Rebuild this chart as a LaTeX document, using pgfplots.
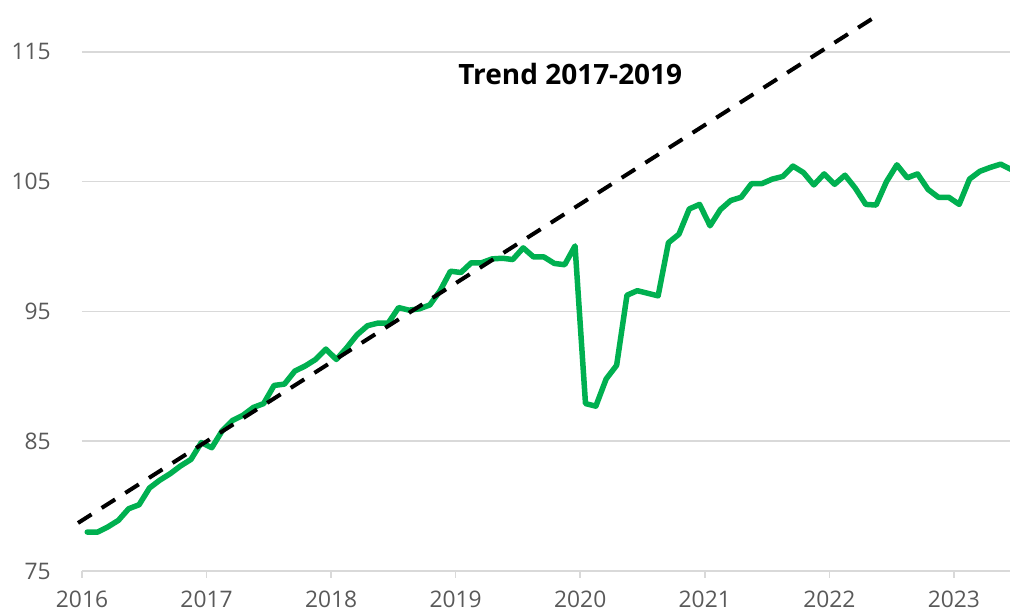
\documentclass[border=0pt]{standalone}
\usepackage{pgfplots}
\pgfplotsset{compat=1.18}
\usepackage{fontspec}
\setmainfont{Open Sans}
\definecolor{grn}{HTML}{00B050}
\definecolor{grd}{HTML}{D9D9D9}
\definecolor{lbl}{HTML}{595959}
\pgfplotstableread{
x y
2016.042 78.0
2016.125 78.0
2016.208 78.4
2016.292 78.9
2016.375 79.8
2016.458 80.1
2016.542 81.4
2016.625 82.0
2016.708 82.5
2016.792 83.1
2016.875 83.6
2016.958 84.9
2017.042 84.5
2017.125 85.8
2017.208 86.6
2017.292 87.0
2017.375 87.6
2017.458 87.9
2017.542 89.3
2017.625 89.4
2017.708 90.4
2017.792 90.8
2017.875 91.3
2017.958 92.1
2018.042 91.3
2018.125 92.2
2018.208 93.2
2018.292 93.9
2018.375 94.1
2018.458 94.1
2018.542 95.3
2018.625 95.1
2018.708 95.2
2018.792 95.5
2018.875 96.6
2018.958 98.1
2019.042 98.0
2019.125 98.75
2019.208 98.75
2019.292 99.05
2019.375 99.1
2019.458 99.0
2019.542 99.9
2019.625 99.2
2019.708 99.2
2019.792 98.7
2019.875 98.6
2019.958 100.05
2020.042 87.9
2020.125 87.7
2020.208 89.8
2020.292 90.85
2020.375 96.25
2020.458 96.6
2020.542 96.4
2020.625 96.2
2020.708 100.3
2020.792 100.95
2020.875 102.9
2020.958 103.25
2021.042 101.6
2021.125 102.85
2021.208 103.55
2021.292 103.8
2021.375 104.85
2021.458 104.85
2021.542 105.2
2021.625 105.4
2021.708 106.2
2021.792 105.7
2021.875 104.75
2021.958 105.6
2022.042 104.8
2022.125 105.5
2022.208 104.5
2022.292 103.25
2022.375 103.2
2022.458 105.0
2022.542 106.3
2022.625 105.3
2022.708 105.6
2022.792 104.4
2022.875 103.8
2022.958 103.8
2023.042 103.25
2023.125 105.2
2023.208 105.8
2023.292 106.1
2023.375 106.35
2023.458 105.95
}\series
\begin{document}
\begin{tikzpicture}
\begin{axis}[name=ax, scale only axis, width=464pt, height=285.5pt,
  xmin=2016, xmax=2023.45, ymin=75, ymax=119,
  clip=false,
  separate axis lines,
  axis x line*=bottom, axis y line*=left,
  every outer x axis line/.append style={-, draw=grd, line width=0.75pt},
  every outer y axis line/.append style={-, draw=none},
  xtick={2016,2017,...,2023},
  ytick={75,85,95,105,115},
  ymajorgrids,
  grid style={grd, line width=0.75pt},
  tick align=outside,
  major tick length=3.5pt,
  xtick style={grd, line width=0.75pt},
  ytick style={draw=none},
  ticklabel style={font=\fontsize{11.4}{14}\selectfont, text=lbl},
  /pgf/number format/assume math mode=true,
  /pgf/number format/1000 sep={},
  xticklabel style={inner sep=0pt, anchor=north, yshift=-6.5pt},
  yticklabel style={inner sep=0pt, anchor=east, xshift=-12pt},
]
\addplot[grn, line width=2.75pt, line cap=round, line join=round] table[x=x,y=y] {\series};
\addplot[black, line width=2pt, dash pattern=on 8pt off 6pt] coordinates {(2015.968,78.7) (2022.364,117.68)};
\node[font=\bfseries\fontsize{14}{16}\selectfont] at (axis cs:2019.92,113.3) {Trend 2017-2019};
\end{axis}
\pgfresetboundingbox
\path ([xshift=-41pt,yshift=-21.5pt]ax.south west) rectangle (ax.north east);
\end{tikzpicture}
\end{document}
